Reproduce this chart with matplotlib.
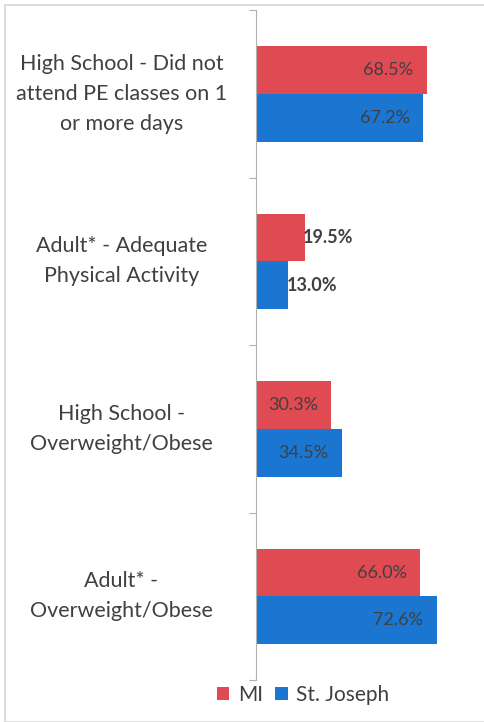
import numpy as np
import matplotlib.pyplot as plt
from matplotlib.patches import Rectangle

categories = [
    "High School - Did not\nattend PE classes on 1\nor more days",
    "Adult* - Adequate\nPhysical Activity",
    "High School -\nOverweight/Obese",
    "Adult* -\nOverweight/Obese",
]
mi = [68.5, 19.5, 30.3, 66.0]
st_joseph = [67.2, 13.0, 34.5, 72.6]
series_names = ["MI", "St. Joseph"]

red = "#E04A52"
blue = "#1B76D2"
text_col = "#404040"

plt.rcParams["font.family"] = ["Lato", "DejaVu Sans"]

fig = plt.figure(figsize=(4.85, 7.22), dpi=100)
ax = fig.add_axes([256 / 485, 0.058, (475 - 256) / 485, 0.928])

y = np.arange(len(categories))
h = 0.285
ax.barh(y - h / 2, mi, height=h, color=red, label=series_names[0])
ax.barh(y + h / 2, st_joseph, height=h, color=blue, label=series_names[1])

ax.set_xlim(0, (475 - 256) / 2.49)
ax.set_ylim(len(categories) - 0.5, -0.5)

for vals, off in [(mi, -h / 2), (st_joseph, h / 2)]:
    for i, v in enumerate(vals):
        if v > 25:
            ax.text(v - 5.5, i + off, f"{v:.1f}%", ha="right", va="center",
                    fontsize=13, color=text_col)
        else:
            ax.text(v - 0.8, i + off, f"{v:.1f}%", ha="left", va="center",
                    fontsize=13, color=text_col, fontweight="bold")

ax.set_xticks([])
ax.set_yticks(np.arange(len(categories) + 1) - 0.5, minor=False)
ax.set_yticklabels([])
ax.tick_params(axis="y", length=5, color="#b0b0b0", direction="out")
for i, c in enumerate(categories):
    ax.text(-0.615, i, c, transform=ax.get_yaxis_transform(), ha="center",
            va="center", fontsize=15.5, color=text_col, linespacing=1.62)

for s in ["top", "right", "bottom"]:
    ax.spines[s].set_visible(False)
ax.spines["left"].set_color("#b0b0b0")

fig.legend(loc="center", bbox_to_anchor=(0.625, 1 - 695 / 722), ncol=2, frameon=False,
           fontsize=15, handlelength=0.6, handleheight=0.6, handletextpad=0.4,
           columnspacing=0.6, labelcolor=text_col, bbox_transform=fig.transFigure)

fig.patches.append(Rectangle((0.01, 0.0), 0.99, 0.993, transform=fig.transFigure,
                             fill=False, edgecolor="#d8d8d8", linewidth=1.2))

fig.savefig("out.png", dpi=100)
